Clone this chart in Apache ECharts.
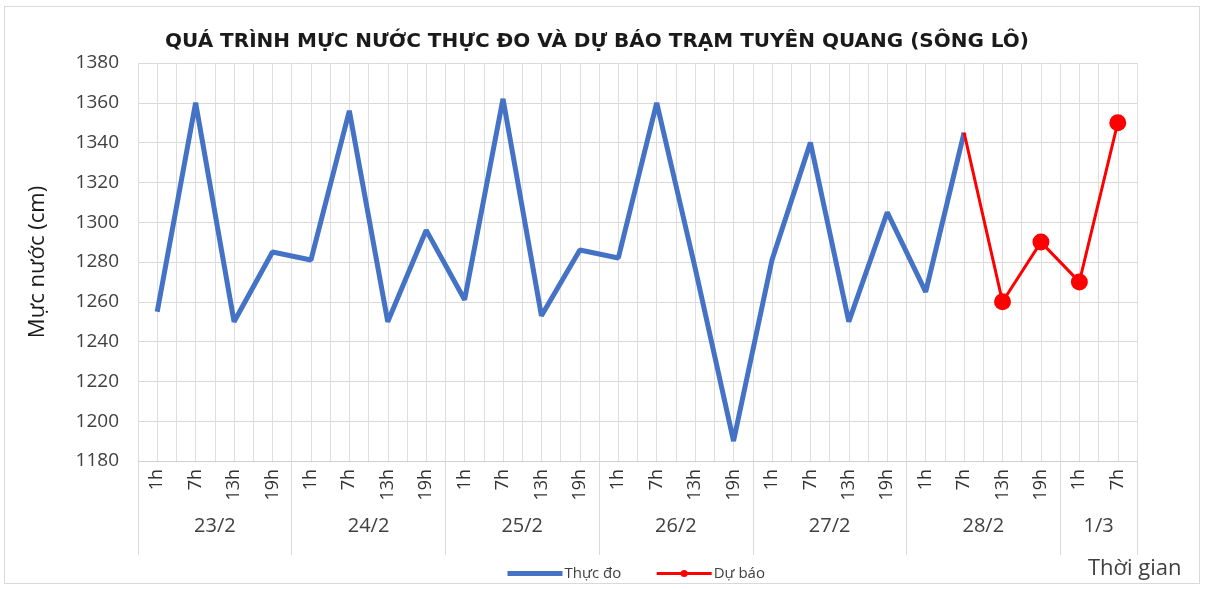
<!DOCTYPE html>
<html>
<head>
<meta charset="utf-8">
<script src="https://cdn.jsdelivr.net/npm/echarts@6/dist/echarts.min.js"></script>
<style>
html,body{margin:0;padding:0;background:#fff;}
#frame{position:absolute;left:4px;top:6px;width:1196px;height:578px;border:1px solid #d9d9d9;box-sizing:border-box;}
#chart{position:absolute;left:0;top:0;width:1209px;height:589px;}
</style>
</head>
<body>
<div id="frame"></div>
<div id="chart"></div>
<script>
// ---- data ----
const hours = ['1h','7h','13h','19h','1h','7h','13h','19h','1h','7h','13h','19h','1h','7h','13h','19h','1h','7h','13h','19h','1h','7h','13h','19h','1h','7h'];
const dayLabels = ['23/2','24/2','25/2','26/2','27/2','28/2','1/3'];
const daySpans = [4,4,4,4,4,4,2];
const observed = [1255,1360,1250,1285, 1281,1356,1250,1296, 1261,1362,1253,1286, 1282,1360,1277,1190, 1281,1340,1250,1305, 1265,1345];
const forecastStart = 21; // 28/2 7h
const forecast = [1345,1260,1290,1270,1350];
const yTicks = {min:1180, max:1380, step:20};

// ---- derived ----
const n = hours.length;
const boundaries = [0];
daySpans.forEach(s => boundaries.push(boundaries[boundaries.length-1] + s));
const dayCenters = daySpans.map((s,i) => boundaries[i] + s/2);
const redData = [];
for (let i = 0; i < forecastStart; i++) redData.push(null);
forecast.forEach((v,i) => redData.push(i === 0 ? {value:v, symbol:'none'} : v));

const FONT = '"Open Sans", "Noto Sans", sans-serif';
const chart = echarts.init(document.getElementById('chart'), null, {renderer:'canvas'});
chart.setOption({
  backgroundColor: 'transparent',
  animation: false,
  textStyle: {fontFamily: FONT},
  title: {
    text: 'QUÁ TRÌNH MỰC NƯỚC THỰC ĐO VÀ DỰ BÁO TRẠM TUYÊN QUANG (SÔNG LÔ)',
    left: 592, top: 27, textAlign: 'center',
    textStyle: {fontFamily: '"DejaVu Sans", sans-serif', fontSize: 20, fontWeight: 'bold', color: '#1a1a1a'}
  },
  legend: {
    left: 500, top: 561,
    itemWidth: 55, itemHeight: 9, itemGap: 34,
    textStyle: {fontFamily: FONT, fontSize: 15, color: '#404040', padding: [0,0,0,-3]},
    data: [
      {name: 'Thực đo', itemStyle: {opacity: 0}, lineStyle: {width: 5, color: '#4472C4'}},
      {name: 'Dự báo', lineStyle: {width: 3, color: '#FF0000'}}
    ]
  },
  grid: {left: 138, right: 72, top: 63, bottom: 128},
  xAxis: [
    {
      type: 'category', data: hours, boundaryGap: true, position: 'bottom',
      axisLine: {show: true, lineStyle: {color: '#d0d0d0', width: 1}},
      axisTick: {show: false},
      axisLabel: {interval: 0, rotate: 90, fontSize: 18, color: '#333', margin: 8, fontFamily: FONT},
      splitLine: {show: false}
    },
    {
      type: 'value', min: 0, max: n, interval: 0.5, position: 'bottom',
      axisLine: {show: false}, axisTick: {show: false}, axisLabel: {show: false},
      splitLine: {show: true, lineStyle: {color: '#dedede', width: 1}}
    },
    {
      type: 'value', min: 0, max: n, position: 'bottom',
      axisLine: {show: false},
      axisTick: {show: true, customValues: boundaries, length: 94, lineStyle: {color: '#d9d9d9', width: 1}},
      axisLabel: {
        show: true, customValues: dayCenters, margin: 55, fontSize: 20, color: '#404040', fontFamily: FONT,
        formatter: function (v) { const i = dayCenters.indexOf(v); return i >= 0 ? dayLabels[i] : ''; }
      },
      splitLine: {show: false}
    }
  ],
  yAxis: {
    type: 'value', min: yTicks.min, max: yTicks.max, interval: yTicks.step,
    name: 'Mực nước (cm)', nameLocation: 'middle', nameRotate: 90, nameGap: 89,
    nameTextStyle: {fontFamily: FONT, fontSize: 22, color: '#1a1a1a'},
    axisLine: {show: false}, axisTick: {show: false},
    axisLabel: {fontSize: 19, color: '#404040', margin: 19, fontFamily: FONT, formatter: v => String(v)},
    splitLine: {show: true, lineStyle: {color: '#d9d9d9', width: 1}}
  },
  graphic: [{
    type: 'text', left: 1088, top: 558,
    style: {text: 'Thời gian', fontFamily: FONT, fontSize: 22, fill: '#404040'}
  }],
  series: [
    {
      name: 'Thực đo', type: 'line', xAxisIndex: 0, data: observed,
      symbol: 'none', showSymbol: false,
      lineStyle: {color: '#4472C4', width: 5},
      itemStyle: {color: '#4472C4'}, z: 3
    },
    {
      name: 'Dự báo', type: 'line', xAxisIndex: 0, data: redData,
      symbol: 'circle', symbolSize: 17, showSymbol: true, connectNulls: false,
      lineStyle: {color: '#FF0000', width: 3},
      itemStyle: {color: '#FF0000'}, z: 4
    }
  ]
});
</script>
</body>
</html>
